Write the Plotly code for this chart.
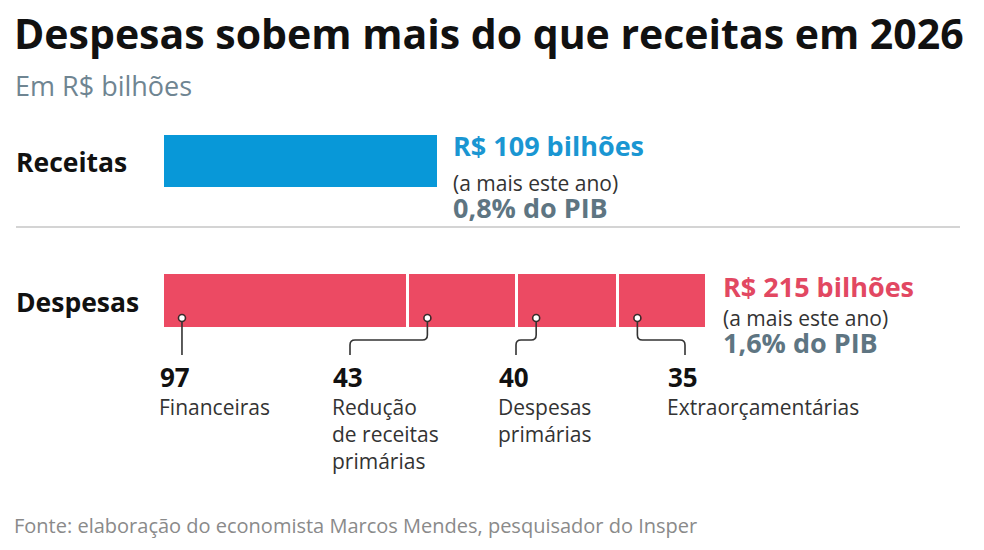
import plotly.graph_objects as go

# ---------------- data ----------------
categories = ["Receitas", "Despesas"]
receitas_total = 109
despesas_parts = [97, 43, 40, 35]
despesas_labels = [["Financeiras"], ["Redução", "de receitas", "primárias"],
                   ["Despesas", "primárias"], ["Extraorçamentárias"]]
totals_text = ["R$ 109 bilhões", "R$ 215 bilhões"]
pib_text = ["0,8% do PIB", "1,6% do PIB"]
extra_text = "(a mais este ano)"
title = "Despesas sobem mais do que receitas em 2026"
subtitle = "Em R$ bilhões"
source = "Fonte: elaboração do economista Marcos Mendes, pesquisador do Insper"

# ---------------- style ----------------
W, H = 984, 550
BLUE = "#0898d8"
RED = "#ec4a63"
BLUE_T = "#1a96d2"
RED_T = "#e24862"
GRAY_T = "#5e7582"
FONT = "Open Sans"

def px(x):
    return x / W

def py(y):
    return 1 - y / H

ORIGIN = 163.0
SCALE = 2.53
ROW = 139.5
YD = 301.0  # Despesas center pixel
ypos = {"Receitas": 1, "Despesas": 0}

fig = go.Figure()

fig.add_trace(go.Bar(
    y=[ypos["Receitas"]], x=[receitas_total], orientation="h",
    marker=dict(color=BLUE, line=dict(color="white", width=3)),
    width=0.4, hoverinfo="skip", showlegend=False))

for v in despesas_parts:
    fig.add_trace(go.Bar(
        y=[ypos["Despesas"]], x=[v], orientation="h",
        marker=dict(color=RED, line=dict(color="white", width=3)),
        width=0.4, hoverinfo="skip", showlegend=False))

# cumulative starts
starts = []
acc = 0
for v in despesas_parts:
    starts.append(acc)
    acc += v
despesas_total = acc

dot_off = 7.5
dot_x = [s + dot_off for s in starts]
dot_y = (YD - 318) / ROW

label_px = [160, 333, 499, 668]
line_end_px = [None, 350, 516, 685]

def data_to_px(xv):
    return ORIGIN + xv * SCALE

def px_to_data(p):
    return (p - ORIGIN) / SCALE

shapes = []
r = 5
for i, dx in enumerate(dot_x):
    dpx = data_to_px(dx)
    if line_end_px[i] is None:
        path = f"M {px(dpx)},{py(321)} L {px(dpx)},{py(355)}"
    else:
        e = line_end_px[i]
        sgn = 1 if e > dpx else -1
        path = (f"M {px(dpx)},{py(321)} L {px(dpx)},{py(340 - r)} "
                f"Q {px(dpx)},{py(340)} {px(dpx + sgn * r)},{py(340)} "
                f"L {px(e - sgn * r)},{py(340)} "
                f"Q {px(e)},{py(340)} {px(e)},{py(340 + r)} "
                f"L {px(e)},{py(355)}")
    shapes.append(dict(type="path", path=path, xref="paper", yref="paper",
                       line=dict(color="#333333", width=1.6)))

fig.add_trace(go.Scatter(
    x=dot_x, y=[dot_y] * len(dot_x), mode="markers",
    marker=dict(size=7, color="white", line=dict(color="#3a2a2a", width=1.6)),
    hoverinfo="skip", showlegend=False))

# separator
shapes.append(dict(type="line", xref="paper", yref="paper",
                   x0=px(16), x1=px(960), y0=py(227), y1=py(227),
                   line=dict(color="#d4d4d4", width=2)))

ann = []
def text(x, y, s, size, color="#111111", bold=False, xref="paper", xshift=0):
    ann.append(dict(
        x=x if xref != "paper" else px(x), y=py(y), xref=xref, yref="paper",
        text=f"<b>{s}</b>" if bold else s, showarrow=False,
        xanchor="left", yanchor="middle", xshift=xshift,
        font=dict(family=FONT, size=size, color=color)))

text(12, 33, title, 41, "#111111", True)
text(13, 85, subtitle, 27, "#6f8592")
text(14, 162, categories[0], 26.5, "#111111", True)
text(14, 302, categories[1], 26.5, "#111111", True)

def note_block(xv, y_center, pib):
    # two-line block: "(a mais este ano)" + bold PIB share
    s = (f"{extra_text}<br>"
         f"<span style='font-size:27px;color:{GRAY_T}'><b>{pib}</b></span>")
    ann.append(dict(
        x=xv, y=py(y_center), xref="x", yref="paper", text=s, showarrow=False,
        xanchor="left", yanchor="middle", align="left", xshift=12,
        font=dict(family=FONT, size=21, color="#333333")))

# Totals to the right of bars
text(receitas_total, 146, totals_text[0], 27, BLUE_T, True, xref="x", xshift=12)
note_block(receitas_total, 197, pib_text[0])

text(despesas_total, 286, totals_text[1], 27, RED_T, True, xref="x", xshift=14)
note_block(despesas_total, 332, pib_text[1])
ann[-1]["xshift"] = 14

for i, v in enumerate(despesas_parts):
    text(label_px[i] - 2, 377, str(v), 26, "#111111", True)
    for j, line in enumerate(despesas_labels[i]):
        text(label_px[i] - 3, 407 + 27 * j, line, 21, "#333333")

text(12, 525, source, 20, "#8a8a8a")

fig.update_layout(
    width=W, height=H, margin=dict(l=0, r=0, t=0, b=0),
    paper_bgcolor="white", plot_bgcolor="white",
    barmode="stack", bargap=0,
    xaxis=dict(range=[px_to_data(0), px_to_data(W)], visible=False, fixedrange=True),
    yaxis=dict(range=[-(H - YD) / ROW, YD / ROW], visible=False, fixedrange=True),
    shapes=shapes, annotations=ann, showlegend=False,
)

fig.write_html("out.html")
